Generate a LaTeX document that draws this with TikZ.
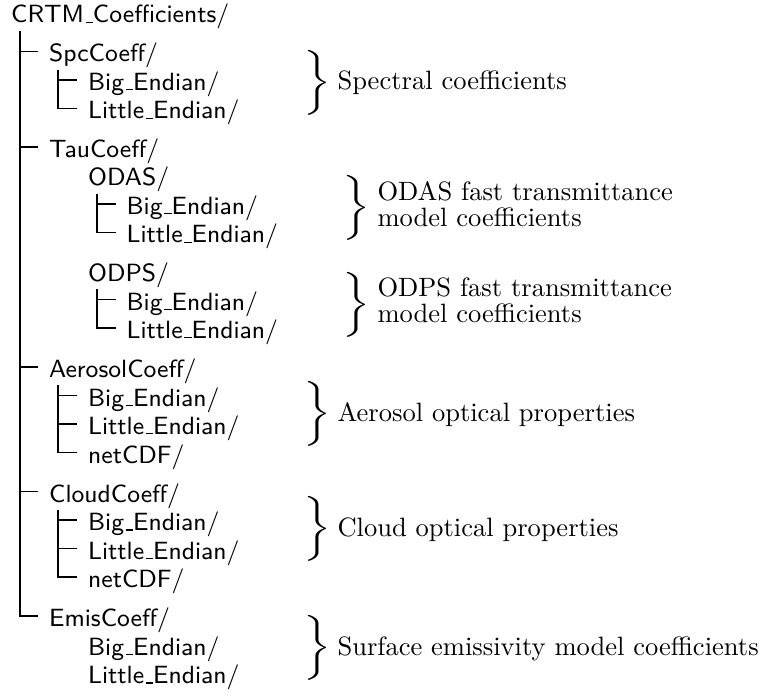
\documentclass[tikz,border=0pt]{standalone}
\usepackage{graphicx}
\usetikzlibrary{calc}
\newcommand\us{\leavevmode\kern.06em\vbox{\hrule width.3em}}
\newcommand\bigbrace{\scalebox{1.4}[1.02]{\(\bigg\}\)}}
\begin{document}
\begin{tikzpicture}[x=0.377pt,y=-0.377pt,
  dir/.style={font=\sffamily\fontsize{9.4}{11}\selectfont, anchor=base west, inner xsep=4pt, inner ysep=0pt, text height=7.9pt, text depth=0pt},
  note/.style={font=\rmfamily, anchor=base west, inner sep=0pt},
  bracenode/.style={anchor=base west, inner sep=0pt},
  treeline/.style={line width=0.4pt}]
\useasboundingbox (0,0) rectangle (767,696);
% tree nodes
\node[dir] (root)  at (0,23)      {CRTM\us Coefficients/};
\node[dir] (spc)   at (38,62)     {SpcCoeff/};
\node[dir] (spcB)  at (77,90.5)   {Big\us Endian/};
\node[dir] (spcL)  at (77,119)    {Little\us Endian/};
\node[dir] (tau)   at (38,157.5)  {TauCoeff/};
\node[dir] (odas)  at (77,186)    {ODAS/};
\node[dir] (odasB) at (115.5,214.5) {Big\us Endian/};
\node[dir] (odasL) at (115.5,243)   {Little\us Endian/};
\node[dir] (odps)  at (77,281.5)  {ODPS/};
\node[dir] (odpsB) at (115.5,310)   {Big\us Endian/};
\node[dir] (odpsL) at (115.5,338.5) {Little\us Endian/};
\node[dir] (aer)   at (38,377.5)  {AerosolCoeff/};
\node[dir] (aerB)  at (77,406)    {Big\us Endian/};
\node[dir] (aerL)  at (77,434.5)  {Little\us Endian/};
\node[dir] (aerC)  at (77,463)    {netCDF/};
\node[dir] (cld)   at (38,502)    {CloudCoeff/};
\node[dir] (cldB)  at (77,530.5)  {Big\us Endian/};
\node[dir] (cldL)  at (77,559)    {Little\us Endian/};
\node[dir] (cldC)  at (77,587.5)  {netCDF/};
\node[dir] (emis)  at (38,626.5)  {EmisCoeff/};
\node[dir] (emisB) at (77,655)    {Big\us Endian/};
\node[dir] (emisL) at (77,683.5)  {Little\us Endian/};
% tree lines
\coordinate (v0) at ($(root.base west)+(20,8)$);
\draw[treeline] (v0) |- (emis.west);
\foreach \n in {spc,tau,aer,cld} \draw[treeline] (\n.west -| v0) -- (\n.west);
\coordinate (v1) at ($(spc.base west)+(20,8)$);
\draw[treeline] (v1) |- (spcL.west);
\draw[treeline] (spcB.west -| v1) -- (spcB.west);
\coordinate (v2) at ($(odas.base west)+(20,8)$);
\draw[treeline] (v2) |- (odasL.west);
\draw[treeline] (odasB.west -| v2) -- (odasB.west);
\coordinate (v3) at ($(odps.base west)+(20,8)$);
\draw[treeline] (v3) |- (odpsL.west);
\draw[treeline] (odpsB.west -| v3) -- (odpsB.west);
\coordinate (v4) at ($(aer.base west)+(20,8)$);
\draw[treeline] (v4) |- (aerC.west);
\foreach \n in {aerB,aerL} \draw[treeline] (\n.west -| v4) -- (\n.west);
\coordinate (v5) at ($(cld.base west)+(20,8)$);
\draw[treeline] (v5) |- (cldC.west);
\foreach \n in {cldB,cldL} \draw[treeline] (\n.west -| v5) -- (\n.west);
% braces and notes
\node[bracenode] (spcBr)  at (303,90)    {\bigbrace};
\node[note]      (spcT)   at (337,90)    {Spectral coefficients};
\node[bracenode] (odasBr) at (342,214.7) {\bigbrace};
\node[note]      (odasT1) at (377,201)   {ODAS fast transmittance};
\node[note]      (odasT2) at (377,227)   {model coefficients};
\node[bracenode] (odpsBr) at (342,311.7) {\bigbrace};
\node[note]      (odpsT1) at (377,297)   {ODPS fast transmittance};
\node[note]      (odpsT2) at (377,323)   {model coefficients};
\node[bracenode] (aerBr)  at (303,420.5) {\bigbrace};
\node[note]      (aerT)   at (337,421)   {Aerosol optical properties};
\node[bracenode] (cldBr)  at (303,535.7) {\bigbrace};
\node[note]      (cldT)   at (337,536)   {Cloud optical properties};
\node[bracenode] (emisBr) at (303,654.7) {\bigbrace};
\node[note]      (emisT)  at (337,655)   {Surface emissivity model coefficients};
\end{tikzpicture}
\end{document}
